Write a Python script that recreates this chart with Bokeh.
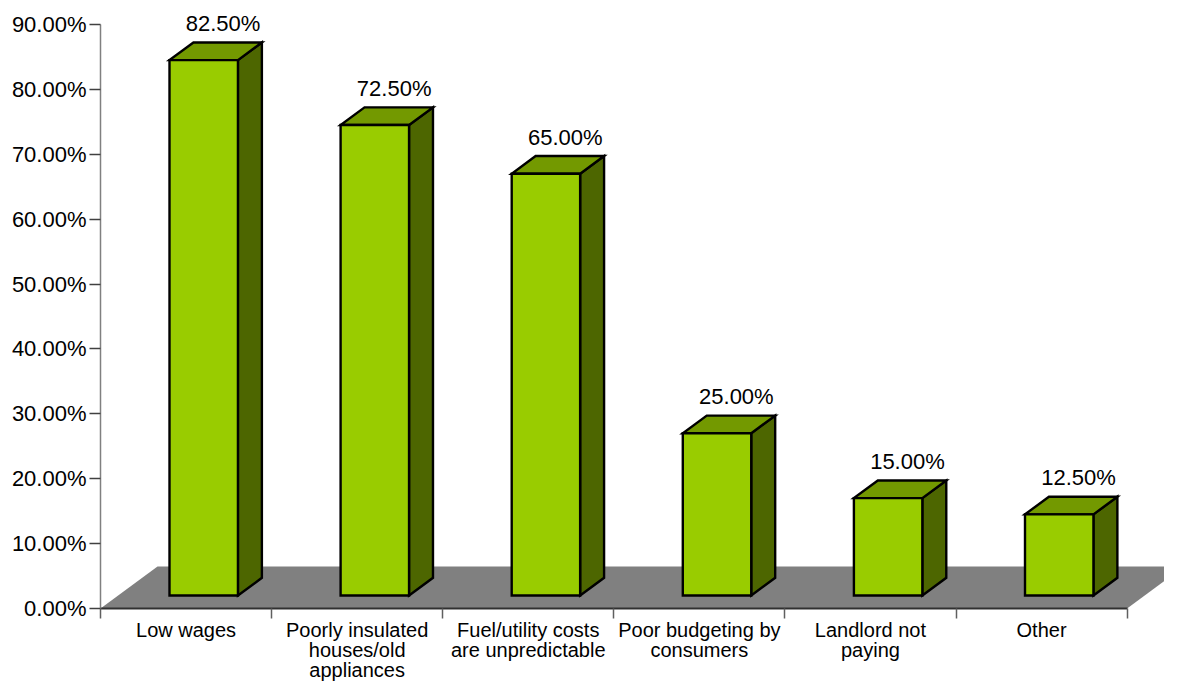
from bokeh.plotting import figure
from bokeh.models import FixedTicker, Range1d, ColumnDataSource
from bokeh.embed import file_html
from bokeh.resources import INLINE
from bokeh.core.properties import value

# ---------------- data ----------------
categories = [
    "Low wages",
    "Poorly insulated\nhouses/old\nappliances",
    "Fuel/utility costs\nare unpredictable",
    "Poor budgeting by\nconsumers",
    "Landlord not\npaying",
    "Other",
]
values = [82.5, 72.5, 65.0, 25.0, 15.0, 12.5]
value_labels = ["82.50%", "72.50%", "65.00%", "25.00%", "15.00%", "12.50%"]
y_ticks = [0, 10, 20, 30, 40, 50, 60, 70, 80, 90]
y_tick_labels = ["0.00%", "10.00%", "20.00%", "30.00%", "40.00%",
                 "50.00%", "60.00%", "70.00%", "80.00%", "90.00%"]

# ---------------- layout / style ----------------
FONT = "Liberation Sans"
W, H = 1164, 684
LEFT, BOTTOM = 100, 76
PX_X = 171.1      # pixels per category slot
PX_Y = 6.489      # pixels per percent
x_start = -0.5
x_end = x_start + (W - LEFT) / PX_X
y_end = (H - BOTTOM) / PX_Y

DX = 57 / PX_X    # depth vector (data units) for full floor depth
DY = 42 / PX_Y
HALF = 0.2        # half bar width (category units)
D0, D1 = 0.31, 0.73  # bar front/back depth fractions

FRONT = "#99CC00"
TOP = "#739900"
SIDE = "#4D6600"
FLOOR = "#808080"

p = figure(width=W, height=H, x_range=Range1d(x_start, x_end),
           y_range=Range1d(0, y_end), output_backend="svg",
           toolbar_location=None, min_border_left=LEFT, min_border_right=0,
           min_border_top=0, min_border_bottom=BOTTOM)
p.outline_line_color = None
p.grid.visible = False
p.background_fill_color = "white"
p.border_fill_color = "white"

n = len(categories)
xc = list(range(n))

# floor
p.patch([x_start, x_start + n, x_start + n + DX, x_start + DX],
        [0, 0, DY, DY], fill_color=FLOOR, line_color=None)

fx0 = [c - HALF + D0 * DX for c in xc]
fx1 = [c + HALF + D0 * DX for c in xc]
bx0 = [c - HALF + D1 * DX for c in xc]
bx1 = [c + HALF + D1 * DX for c in xc]
fy = D0 * DY
by = D1 * DY

sides_xs = [[fx1[i], bx1[i], bx1[i], fx1[i]] for i in range(n)]
sides_ys = [[fy, by, values[i] + by, values[i] + fy] for i in range(n)]
tops_xs = [[fx0[i], fx1[i], bx1[i], bx0[i]] for i in range(n)]
tops_ys = [[values[i] + fy, values[i] + fy, values[i] + by, values[i] + by] for i in range(n)]
fronts_xs = [[fx0[i], fx1[i], fx1[i], fx0[i]] for i in range(n)]
fronts_ys = [[fy, fy, values[i] + fy, values[i] + fy] for i in range(n)]

lw = 2.4
p.patches(sides_xs, sides_ys, fill_color=SIDE, line_color="black", line_width=lw, line_join="miter")
p.patches(tops_xs, tops_ys, fill_color=TOP, line_color="black", line_width=lw, line_join="miter")
p.patches(fronts_xs, fronts_ys, fill_color=FRONT, line_color="black", line_width=lw, line_join="miter")

# value labels
lab_src = ColumnDataSource(dict(
    x=[c + 37 / PX_X for c in xc],
    y=[v + by + 19 / PX_Y for v in values],
    t=value_labels))
p.text(x="x", y="y", text="t", source=lab_src, text_font=value(FONT),
       text_font_size="22px", text_align="center", text_baseline="alphabetic",
       text_color="black")

# y axis
ya = p.yaxis[0]
ya.ticker = FixedTicker(ticks=y_ticks, minor_ticks=[])
ya.major_label_overrides = {t: l for t, l in zip(y_ticks, y_tick_labels)}
ya.bounds = (0, 90)
ya.axis_line_color = "#808080"
ya.axis_line_width = 1.5
ya.major_tick_line_color = "#404040"
ya.major_tick_line_width = 1.5
ya.major_tick_out = 11
ya.major_tick_in = 0
ya.minor_tick_line_color = None
ya.major_label_standoff = 3
ya.major_label_text_font = FONT
ya.major_label_text_font_size = "22px"
ya.major_label_text_color = "black"

# x axis
xa = p.xaxis[0]
xa.ticker = FixedTicker(ticks=xc, minor_ticks=[x_start + k for k in range(n + 1)])
xa.major_label_overrides = {c: l for c, l in zip(xc, categories)}
xa.bounds = (x_start, x_start + n)
xa.axis_line_color = "#303030"
xa.axis_line_width = 2
xa.major_tick_out = 0
xa.major_tick_in = 0
xa.major_tick_line_color = None
xa.minor_tick_out = 10
xa.minor_tick_in = 0
xa.minor_tick_line_color = "#606060"
xa.minor_tick_line_width = 1.5
xa.major_label_standoff = 0
xa.major_label_text_font = FONT
xa.major_label_text_font_size = "20px"
xa.major_label_text_line_height = 0.93
xa.major_label_text_color = "black"
xa.major_label_orientation = "horizontal"

open("out.html", "w").write(file_html(p, INLINE))
